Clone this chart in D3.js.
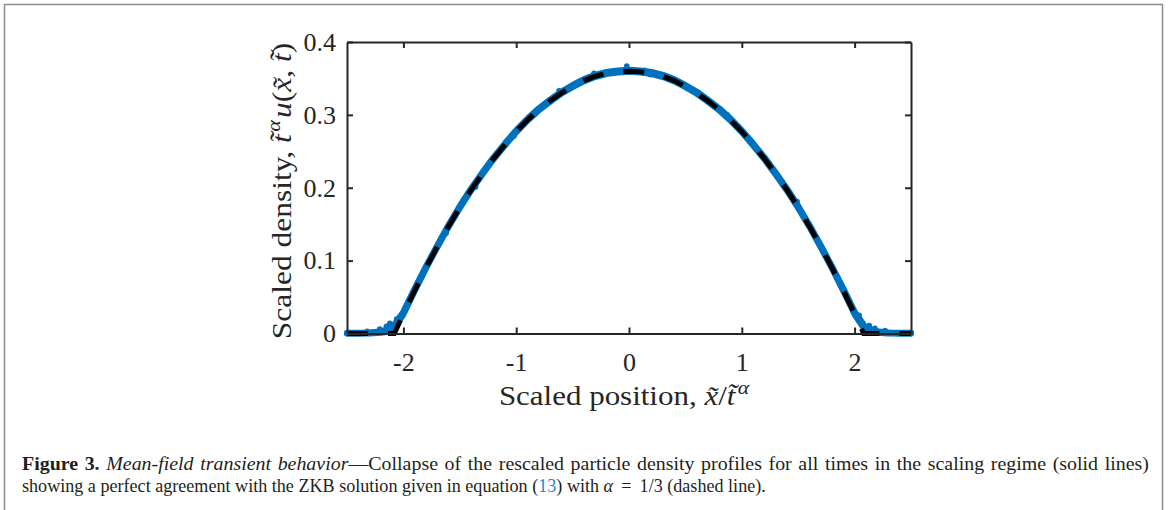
<!DOCTYPE html>
<html>
<head>
<meta charset="utf-8">
<script src="https://cdn.jsdelivr.net/npm/d3@7"></script>
<style>
  body { margin: 0; background: #fff; }
  svg text { font-family: "Liberation Serif", "DejaVu Serif", serif; }
</style>
</head>
<body>
<div id="plot"></div>
<script>
// scaled position grid (x~/t~^alpha)
const xGrid = [-2.5,-2.4,-2.3,-2.2,-2.1,-2.0,-1.9,-1.8,-1.7,-1.6,-1.5,-1.4,-1.3,-1.2,-1.1,-1.0,-0.9,-0.8,-0.7,-0.6,-0.5,-0.4,-0.3,-0.2,-0.1,
               0,0.1,0.2,0.3,0.4,0.5,0.6,0.7,0.8,0.9,1.0,1.1,1.2,1.3,1.4,1.5,1.6,1.7,1.8,1.9,2.0,2.1,2.2,2.3,2.4,2.5];

// ZKB solution, dashed line
const zkbX = [-2.5,-2.08,-2.0,-1.9,-1.8,-1.7,-1.6,-1.5,-1.4,-1.3,-1.2,-1.1,-1.0,-0.9,-0.8,-0.7,-0.6,-0.5,-0.4,-0.3,-0.2,-0.1,
              0,0.1,0.2,0.3,0.4,0.5,0.6,0.7,0.8,0.9,1.0,1.1,1.2,1.3,1.4,1.5,1.6,1.7,1.8,1.9,2.0,2.08,2.5];
const zkbY = [0,0,0.027,0.059,0.090,0.119,0.147,0.173,0.197,0.219,0.240,0.259,0.277,0.293,0.307,0.319,0.330,0.339,0.347,0.353,0.357,0.359,
              0.360,0.359,0.357,0.353,0.347,0.339,0.330,0.319,0.307,0.293,0.277,0.259,0.240,0.219,0.197,0.173,0.147,0.119,0.090,0.059,0.027,0,0];

// rescaled density profiles at several times (solid blue lines)
const profileA = [0,0,0.001,0.002,0.005,0.028,0.060,0.091,0.120,0.148,0.174,0.198,0.220,0.241,0.260,0.278,0.294,0.308,0.320,0.331,0.340,0.348,0.354,0.358,0.360,
                  0.361,0.360,0.358,0.354,0.348,0.340,0.331,0.320,0.308,0.294,0.278,0.260,0.241,0.220,0.198,0.174,0.148,0.120,0.091,0.060,0.028,0.005,0.002,0.001,0,0];
const profileB = [0.001,0.001,0.001,0.003,0.008,0.030,0.062,0.092,0.121,0.149,0.175,0.199,0.221,0.242,0.261,0.279,0.295,0.309,0.321,0.332,0.341,0.349,0.355,0.359,0.361,
                  0.362,0.361,0.359,0.355,0.349,0.341,0.332,0.321,0.309,0.295,0.279,0.261,0.242,0.221,0.199,0.175,0.149,0.121,0.092,0.062,0.030,0.008,0.003,0.001,0.001,0.001];
const profileC = [0,0,0,0.001,0.003,0.026,0.058,0.089,0.118,0.146,0.172,0.196,0.218,0.239,0.258,0.276,0.292,0.306,0.318,0.329,0.338,0.346,0.352,0.356,0.358,
                  0.359,0.358,0.356,0.352,0.346,0.338,0.329,0.318,0.306,0.292,0.276,0.258,0.239,0.218,0.196,0.172,0.146,0.118,0.089,0.058,0.026,0.003,0.001,0,0,0];

// scattered noisy samples around the profiles
const noiseX = [-2.32,-2.21,-2.15,-2.12,-2.06,-1.98,-1.86,-1.62,-1.36,-1.02,-0.62,-0.31,-0.02,0.14,0.19,0.46,0.87,1.24,1.49,1.73,1.95,2.04,2.13,2.18,2.27];
const noiseY = [0.003,0.006,0.010,0.014,0.020,0.035,0.072,0.138,0.201,0.271,0.333,0.357,0.367,0.361,0.355,0.344,0.300,0.234,0.181,0.112,0.045,0.025,0.011,0.007,0.004];

const xTicks = [-2,-1,0,1,2];
const yTicks = [0,0.1,0.2,0.3,0.4];
const yTickLabels = ["0","0.1","0.2","0.3","0.4"];

const width = 1168, height = 510;
const axisCol = "#262626", blue = "#0072BD";

const svg = d3.select("#plot").append("svg")
  .attr("width", width).attr("height", height);

// page frame
svg.append("rect")
  .attr("x", 4.5).attr("y", 4.5).attr("width", 1158).attr("height", 540)
  .attr("fill", "none").attr("stroke", "#8c8c8c").attr("stroke-width", 1.5);

const x = d3.scaleLinear().domain([-2.5, 2.5]).range([347, 911]);
const y = d3.scaleLinear().domain([0, 0.4]).range([333.5, 42]);

const line = d3.line().x(d => x(d[0])).y(d => y(d[1]));

// blue simulation profiles
const profiles = [profileB, profileC, profileA];
svg.append("g").selectAll("path")
  .data(profiles)
  .join("path")
  .attr("d", p => line(xGrid.map((v, i) => [v, p[i]])))
  .attr("fill", "none")
  .attr("stroke", blue)
  .attr("stroke-width", 6)
  .attr("stroke-linecap", "round")
  .attr("stroke-linejoin", "round");

svg.append("g").selectAll("circle")
  .data(noiseX.map((v, i) => [v, noiseY[i]]))
  .join("circle")
  .attr("cx", d => x(d[0])).attr("cy", d => y(d[1]))
  .attr("r", 2.8).attr("fill", blue);

// dashed ZKB curve
svg.append("path")
  .attr("d", line(zkbX.map((v, i) => [v, zkbY[i]])))
  .attr("fill", "none")
  .attr("stroke", "#000")
  .attr("stroke-width", 5)
  .attr("stroke-dasharray", "21,20");

// axes (box with inward ticks)
function styleAxis(g) {
  g.select(".domain").attr("stroke", axisCol).attr("stroke-width", 2);
  g.selectAll(".tick line").attr("stroke", axisCol).attr("stroke-width", 2);
  g.selectAll(".tick text").attr("fill", axisCol).attr("font-size", 26)
    .attr("font-family", null);
}

svg.append("g").attr("transform", `translate(0,${y(0)})`)
  .call(d3.axisBottom(x).tickValues(xTicks).tickSize(-6).tickSizeOuter(0).tickPadding(19)
    .tickFormat(d => String(d)))
  .call(styleAxis);

svg.append("g").attr("transform", `translate(0,${y(0.4)})`)
  .call(d3.axisTop(x).tickValues(xTicks).tickSize(-6).tickSizeOuter(0).tickFormat(""))
  .call(styleAxis);

svg.append("g").attr("transform", `translate(${x(-2.5)},0)`)
  .call(d3.axisLeft(y).tickValues(yTicks).tickSize(-6).tickSizeOuter(0).tickPadding(11)
    .tickFormat((d, i) => yTickLabels[i]))
  .call(styleAxis);

svg.append("g").attr("transform", `translate(${x(2.5)},0)`)
  .call(d3.axisRight(y).tickValues(yTicks).tickSize(-6).tickSizeOuter(0).tickFormat(""))
  .call(styleAxis);

// horizontal stretch needed so that a text element's advance matches `len`
function fit(t, len) {
  return len / t.node().getComputedTextLength();
}

// axis labels
const xl = svg.append("text")
  .attr("text-anchor", "middle")
  .attr("font-size", 27).attr("fill", axisCol);
xl.append("tspan").text("Scaled position, ");
xl.append("tspan").attr("font-style", "italic").text("x\u0303");
xl.append("tspan").text("/");
xl.append("tspan").attr("font-style", "italic").text("t\u0303");
xl.append("tspan").attr("font-style", "italic").attr("font-size", 19).attr("dx", 2).attr("dy", -11).text("α");
xl.attr("transform", `translate(624,405) scale(${fit(xl, 248)},1)`);

const yl = svg.append("text")
  .attr("text-anchor", "middle")
  .attr("font-size", 27).attr("fill", axisCol);
yl.append("tspan").text("Scaled density, ");
yl.append("tspan").attr("font-style", "italic").text("t\u0303");
yl.append("tspan").attr("font-style", "italic").attr("font-size", 19).attr("dx", 2).attr("dy", -11).text("α");
yl.append("tspan").attr("font-style", "italic").attr("dx", 2).attr("dy", 11).text("u");
yl.append("tspan").text("(");
yl.append("tspan").attr("font-style", "italic").text("x\u0303");
yl.append("tspan").text(", ");
yl.append("tspan").attr("font-style", "italic").text("t\u0303");
yl.append("tspan").text(")");
yl.attr("transform", `translate(291,191) rotate(-90) scale(${fit(yl, 292)},1)`);

// caption, each line fitted to its width in the figure
const cap1 = svg.append("text")
  .attr("font-size", 18).attr("fill", "#231f20").attr("word-spacing", 1.5);
cap1.append("tspan").attr("font-weight", "bold").text("Figure 3. ");
cap1.append("tspan").attr("font-style", "italic").text("Mean-field transient behavior");
cap1.append("tspan").text("\u2014Collapse of the rescaled particle density profiles for all times in the scaling regime (solid lines)");

const cap2 = svg.append("text")
  .attr("font-size", 18).attr("fill", "#231f20");
cap2.append("tspan").text("showing a perfect agreement with the ZKB solution given in equation (");
cap2.append("tspan").attr("fill", "#1a8ac6").text("13");
cap2.append("tspan").text(") with ");
cap2.append("tspan").attr("font-style", "italic").text("α");
cap2.append("tspan").text(" \u2009=\u2009 1/3 (dashed line).");

cap1.attr("transform", `translate(22,470) scale(${fit(cap1, 1128)},1)`);
cap2.attr("transform", `translate(22,492) scale(${fit(cap2, 744)},1)`);
</script>
</body>
</html>
